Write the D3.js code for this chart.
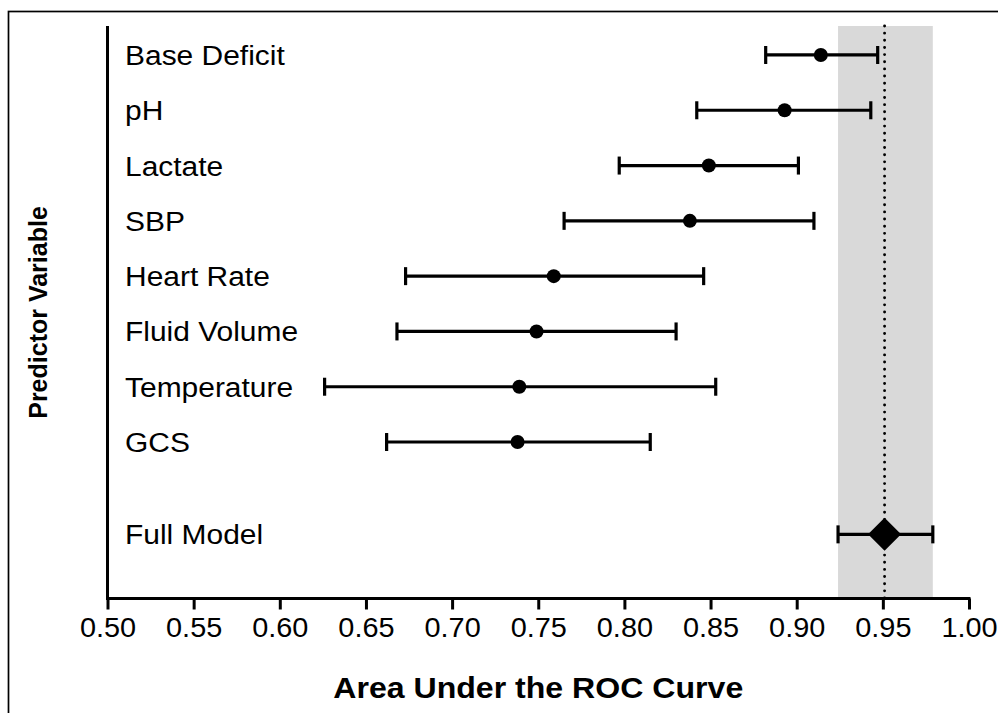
<!DOCTYPE html>
<html>
<head>
<meta charset="utf-8">
<script src="https://cdn.jsdelivr.net/npm/d3@7/dist/d3.min.js"></script>
<style>
  html, body { margin: 0; padding: 0; background: #fff; }
  svg { display: block; font-family: "Liberation Sans", Arial, Helvetica, sans-serif; }
</style>
</head>
<body>
<svg id="chart" width="998" height="713"></svg>
<script>
// AUC with 95% confidence intervals for each predictor and the full model
const categories = ["Base Deficit", "pH", "Lactate", "SBP", "Heart Rate", "Fluid Volume", "Temperature", "GCS", "Full Model"];
const auc   = [0.914, 0.893, 0.849, 0.838, 0.759, 0.749, 0.739, 0.738, 0.951];
const lower = [0.882, 0.842, 0.797, 0.765, 0.673, 0.668, 0.626, 0.662, 0.924];
const upper = [0.947, 0.943, 0.901, 0.910, 0.846, 0.830, 0.853, 0.815, 0.979];
// row slot of each category on the vertical axis (the full model sits after a gap)
const rowSlot = [0, 1, 2, 3, 4, 5, 6, 7, 8.67];
const xTicks = [0.50, 0.55, 0.60, 0.65, 0.70, 0.75, 0.80, 0.85, 0.90, 0.95, 1.00];

const svg = d3.select("#chart");
const stretch = 1.07;

const x = d3.scaleLinear().domain([0.5, 1.0]).range([107.5, 969]);
const y = d3.scaleLinear().domain([-0.524, 9.83]).range([26, 598.5]);

const rows = categories.map((c, i) => ({ name: c, auc: auc[i], lo: lower[i], hi: upper[i], slot: rowSlot[i] }));
const full = rows[rows.length - 1];

// outer frame
svg.append("rect")
  .attr("x", 8.5).attr("y", 11.5).attr("width", 1000).attr("height", 720)
  .attr("fill", "none").attr("stroke", "#000").attr("stroke-width", 1.7);

// shaded band = full model confidence interval
svg.append("rect")
  .attr("x", x(full.lo)).attr("y", y.range()[0])
  .attr("width", x(full.hi) - x(full.lo))
  .attr("height", y.range()[1] - y.range()[0])
  .attr("fill", "#d9d9d9");

// dotted reference line at the full model AUC
svg.append("line")
  .attr("x1", x(full.auc)).attr("x2", x(full.auc))
  .attr("y1", y.range()[0]).attr("y2", y.range()[1])
  .attr("stroke", "#000").attr("stroke-width", 2.9)
  .attr("stroke-linecap", "round").attr("stroke-dasharray", "0 7.15");

// x axis
const xAxis = d3.axisBottom(x).tickValues(xTicks).tickFormat(d3.format(".2f")).tickSize(11).tickSizeOuter(0);
const gx = svg.append("g").attr("transform", `translate(0,${y.range()[1]})`).call(xAxis);
gx.select(".domain").attr("stroke", "#000").attr("stroke-width", 3)
  .attr("d", `M${x.range()[0] - 1.5},0H${x.range()[1] + 1.5}`);
gx.selectAll(".tick line").attr("stroke", "#000").attr("stroke-width", 3);
gx.selectAll(".tick text")
  .attr("y", 38.5).attr("dy", 0)
  .attr("fill", "#000")
  .style("font-size", "27px")
  .attr("transform", `scale(${stretch},1)`);

// y axis line (no ticks)
svg.append("line")
  .attr("x1", x.range()[0]).attr("x2", x.range()[0])
  .attr("y1", y.range()[0]).attr("y2", y.range()[1] + 1.5)
  .attr("stroke", "#000").attr("stroke-width", 3);

// category labels
svg.append("g").selectAll("text").data(rows).join("text")
  .attr("transform", d => `translate(125,${y(d.slot) + 10}) scale(${stretch},1)`)
  .style("font-size", "28px")
  .attr("fill", "#000")
  .text(d => d.name);

// error bars
const bars = svg.append("g").selectAll("g").data(rows).join("g");
bars.append("line")
  .attr("x1", d => x(d.lo)).attr("x2", d => x(d.hi))
  .attr("y1", d => y(d.slot)).attr("y2", d => y(d.slot))
  .attr("stroke", "#000").attr("stroke-width", 3.2);
bars.append("line")
  .attr("x1", d => x(d.lo)).attr("x2", d => x(d.lo))
  .attr("y1", d => y(d.slot) - 9).attr("y2", d => y(d.slot) + 9)
  .attr("stroke", "#000").attr("stroke-width", 3.2);
bars.append("line")
  .attr("x1", d => x(d.hi)).attr("x2", d => x(d.hi))
  .attr("y1", d => y(d.slot) - 9).attr("y2", d => y(d.slot) + 9)
  .attr("stroke", "#000").attr("stroke-width", 3.2);

// point estimates: circles for predictors, diamond for the full model
bars.filter(d => d !== full).append("circle")
  .attr("cx", d => x(d.auc)).attr("cy", d => y(d.slot)).attr("r", 7)
  .attr("fill", "#000");
bars.filter(d => d === full).append("path")
  .attr("d", d => {
    const cx = x(d.auc), cy = y(d.slot), r = 16.5;
    return `M${cx},${cy - r}L${cx + r},${cy}L${cx},${cy + r}L${cx - r},${cy}Z`;
  })
  .attr("fill", "#000");

// axis titles
svg.append("text")
  .attr("transform", `translate(${x(0.75)},698) scale(${stretch},1)`)
  .attr("text-anchor", "middle")
  .style("font-size", "30px").style("font-weight", "bold")
  .attr("fill", "#000")
  .text("Area Under the ROC Curve");

svg.append("text")
  .attr("transform", `translate(47,${(206.7 + 418.3) / 2}) rotate(-90)`)
  .attr("text-anchor", "middle")
  .style("font-size", "25px").style("font-weight", "bold")
  .attr("fill", "#000")
  .text("Predictor Variable");
</script>
</body>
</html>
